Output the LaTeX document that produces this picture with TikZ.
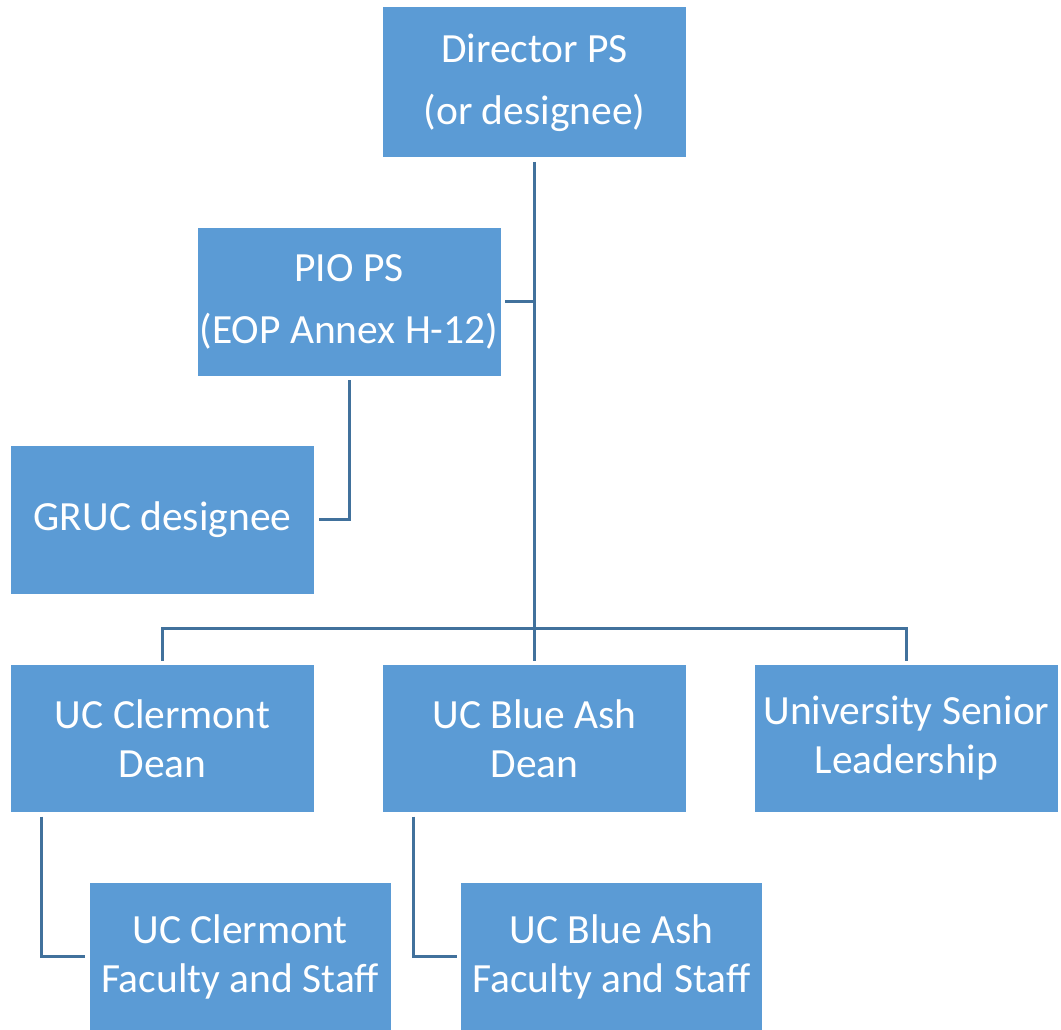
\documentclass[tikz,border=0pt]{standalone}
\usepackage{fontspec}
\setmainfont{Carlito}
\definecolor{boxblue}{HTML}{5B9BD5}
\definecolor{linkblue}{HTML}{41719C}
\begin{document}
\begin{tikzpicture}[x=1pt,y=-1pt,
  orgbox/.style={rectangle, fill=boxblue, text=white, minimum width=303pt, minimum height=148pt,
    inner sep=0pt, outer sep=4.5pt, align=center,
    font=\fontsize{41.5pt}{49pt}\selectfont},
  link/.style={draw=linkblue, line width=3pt}]
\useasboundingbox (0,0) rectangle (1061,1030);
\node[orgbox, minimum height=150pt] (dir) at (534.5,82.5) {Director PS\\[13pt](or designee)};
\node[orgbox] (pio) at (349,301.5) {PIO PS\\[13pt](EOP Annex H-12)};
\node[orgbox] (gruc) at (162.5,519.5) {GRUC designee};
\node[orgbox, minimum height=147pt] (cd) at (162.5,738.5) {UC Clermont\\Dean};
\node[orgbox, minimum height=147pt] (bd) at (534.5,738.5) {UC Blue Ash\\Dean};
\node[orgbox, minimum height=147pt] (ud) at (906.5,738.5) {University Senior\\Leadership};
\node[orgbox, minimum height=147pt, minimum width=301pt] (cf) at (240,956.5) {UC Clermont\\Faculty and Staff};
\node[orgbox, minimum height=147pt, minimum width=301pt] (bf) at (611.5,956.5) {UC Blue Ash\\Faculty and Staff};
\coordinate (bus) at (534.5,628);
\draw[link] (dir.south) -- (bd.north);
\draw[link] (pio.east) -- (pio.east -| dir.south);
\draw[link] (cd.north) |- (bus) -| (ud.north);
\draw[link] (pio.south) |- (gruc.east);
\draw[link] ([xshift=34.5pt]cd.south west) |- (cf.west);
\draw[link] ([xshift=34.5pt]bd.south west) |- (bf.west);
\end{tikzpicture}
\end{document}
